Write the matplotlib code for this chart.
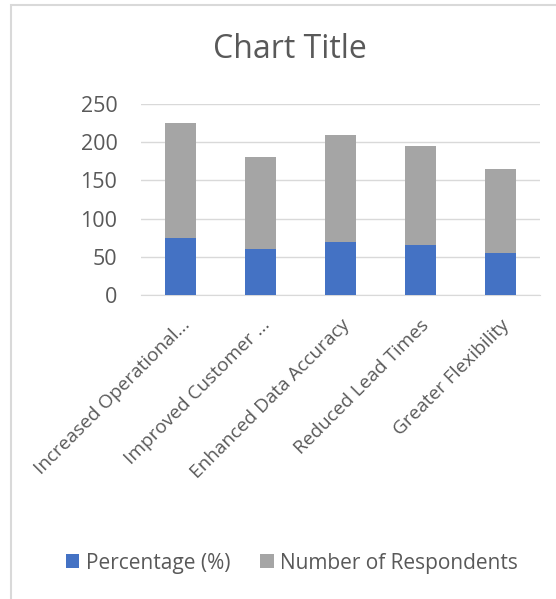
import matplotlib
matplotlib.use("Agg")
import matplotlib.pyplot as plt
from matplotlib.patches import Rectangle
import numpy as np

categories = [
    "Increased Operational...",
    "Improved Customer ...",
    "Enhanced Data Accuracy",
    "Reduced Lead Times",
    "Greater Flexibility",
]
percentage = [75, 60, 70, 65, 55]
respondents = [150, 120, 140, 130, 110]
y_ticks = [0, 50, 100, 150, 200, 250]

BLUE = "#4472C4"
GRAY = "#A5A5A5"
TEXT = "#595959"
GRID = "#D9D9D9"

plt.rcParams["font.family"] = ["Open Sans", "DejaVu Sans"]

fig = plt.figure(figsize=(5.56, 5.99), dpi=100)
ax = fig.add_axes([141 / 556, 1 - 295 / 599, 399 / 556, 191 / 599])

x = np.arange(len(categories))
ax.bar(x, percentage, width=0.39, color=BLUE, label="Percentage (%)", zorder=3)
ax.bar(x, respondents, width=0.39, bottom=percentage, color=GRAY,
       label="Number of Respondents", zorder=3)

ax.set_xlim(-0.5, len(categories) - 0.5)
ax.set_ylim(0, 250)
ax.set_yticks(y_ticks)
ax.tick_params(axis="y", length=0, labelsize=15.5, labelcolor=TEXT, pad=17)
ax.set_xticks(x)
ax.set_xticklabels(categories, rotation=45, ha="right", rotation_mode="anchor",
                   fontsize=13.7, color=TEXT)
ax.tick_params(axis="x", length=0, pad=15)
ax.grid(axis="y", color=GRID, linewidth=1, zorder=0)
for side in ["top", "right", "left"]:
    ax.spines[side].set_visible(False)
ax.spines["bottom"].set_color(GRID)

fig.text(290 / 556, 1 - 49 / 599, "Chart Title", ha="center", va="center",
         fontsize=23, color=TEXT)

fig.legend(loc="center", bbox_to_anchor=(292 / 556, 1 - 563 / 599), ncol=2,
           frameon=False, fontsize=15, handlelength=0.65, handleheight=0.65,
           handletextpad=0.3, columnspacing=1.45, labelcolor=TEXT)

# chart area frame
fig.patches.append(Rectangle((11 / 556, -0.1), 1.1, 1 - 5 / 599 + 0.1,
                             transform=fig.transFigure, fill=False,
                             edgecolor="#D9D9D9", linewidth=1.5))

fig.savefig("out.png", dpi=100)
